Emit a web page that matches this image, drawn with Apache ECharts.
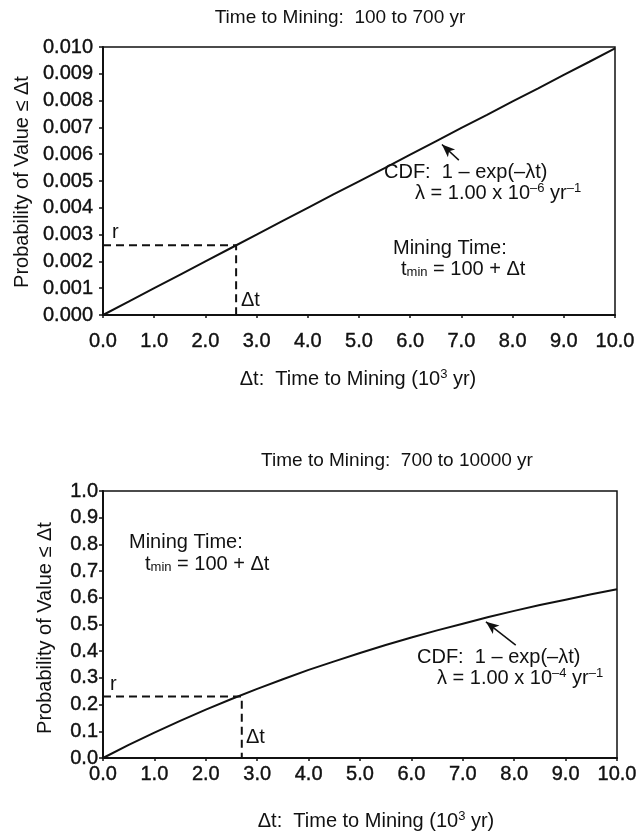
<!DOCTYPE html>
<html>
<head>
<meta charset="utf-8">
<script src="https://cdn.jsdelivr.net/npm/echarts@6/dist/echarts.min.js"></script>
<style>
  html, body { margin: 0; padding: 0; background: #fff; }
  #chart { width: 642px; height: 837px; }
</style>
</head>
<body>
<div id="chart"></div>
<script>
// Δt in 10^3 yr, sampled every 0.5
const dtSteps = [0, 0.5, 1, 1.5, 2, 2.5, 3, 3.5, 4, 4.5, 5, 5.5, 6, 6.5, 7, 7.5, 8, 8.5, 9, 9.5, 10];

// Upper panel: mining between 100 and 700 yr (λ = 1e-6 / yr)
const cdfShort = [0, 0.0005, 0.0010, 0.0015, 0.0020, 0.0025, 0.0030, 0.0035, 0.0040, 0.0045,
                  0.00499, 0.00548, 0.00598, 0.00648, 0.00698, 0.00747, 0.00797, 0.00846, 0.00896, 0.00945, 0.00995];
// Lower panel: mining between 700 and 10000 yr (λ = 1e-4 / yr)
const cdfLong = [0, 0.049, 0.095, 0.139, 0.181, 0.221, 0.259, 0.295, 0.330, 0.362,
                 0.393, 0.423, 0.451, 0.478, 0.503, 0.528, 0.551, 0.573, 0.593, 0.613, 0.632];

// Sampled value r and its Δt, drawn as dashed guides
const sampleShort = { r: 0.0026, dt: 2.6 };
const sampleLong = { r: 0.23, dt: 2.7 };

// Arrow pointing at each curve: [tail, head]
const arrowShort = [[6.95, 0.00578], [6.62, 0.00636]];
const arrowLong = [[8.03, 0.423], [7.45, 0.510]];

const xTicks = { min: 0, max: 10, interval: 1 };
const yTicksShort = { min: 0, max: 0.010, interval: 0.001 };
const yTicksLong = { min: 0, max: 1.0, interval: 0.1 };

const titles = ['Time to Mining:  100 to 700 yr', 'Time to Mining:  700 to 10000 yr'];
const yName = 'Probability of Value \u2264 \u0394t';

const FONT = '"Liberation Sans", Arial, Helvetica, sans-serif';
const INK = '#111';
const FS = 20;

const chart = echarts.init(document.getElementById('chart'), null, { renderer: 'canvas' });

function pairs(xs, ys) { return xs.map((x, i) => [x, ys[i]]); }

const labelInk = { color: INK, fontFamily: FONT, fontSize: FS, textBorderColor: INK, textBorderWidth: 0.4 };

function xAxisCfg(gridIndex, margin) {
  return {
    type: 'value', gridIndex, min: xTicks.min, max: xTicks.max, interval: xTicks.interval,
    axisLine: { show: true, onZero: false, lineStyle: { color: INK, width: 2 } },
    axisTick: { show: true, length: 3, lineStyle: { color: INK, width: 1.5 } },
    axisLabel: Object.assign({ margin, formatter: v => v.toFixed(1) }, labelInk),
    splitLine: { show: false }
  };
}
function yAxisCfg(gridIndex, t, digits, margin) {
  return {
    type: 'value', gridIndex, min: t.min, max: t.max, interval: t.interval,
    axisLine: { show: true, onZero: false, lineStyle: { color: INK, width: 2 } },
    axisTick: { show: true, length: 4, lineStyle: { color: INK, width: 1.5 } },
    axisLabel: Object.assign({ margin, formatter: v => v.toFixed(digits) }, labelInk),
    splitLine: { show: false }
  };
}

function curveSeries(idx, data, arrow) {
  return {
    type: 'line', xAxisIndex: idx, yAxisIndex: idx, data: pairs(dtSteps, data),
    showSymbol: false, smooth: false, silent: true,
    lineStyle: { color: INK, width: 2 },
    markLine: {
      silent: true, animation: false,
      label: { show: false },
      lineStyle: { color: INK, width: 1.5, type: 'solid' },
      data: [[
        { coord: arrow[0], symbol: 'none' },
        { coord: arrow[1], symbol: 'arrow', symbolSize: [8, 13] }
      ]]
    }
  };
}
function guideSeries(idx, s) {
  return {
    type: 'line', xAxisIndex: idx, yAxisIndex: idx,
    data: [[0, s.r], [s.dt, s.r], [s.dt, 0]],
    showSymbol: false, silent: true,
    lineStyle: { color: INK, width: 2, type: [8, 5] }
  };
}

chart.setOption({
  animation: false,
  backgroundColor: '#fff',
  grid: [
    { left: 103, top: 47, width: 512, height: 268, show: true, borderColor: INK, borderWidth: 1.5, backgroundColor: 'transparent' },
    { left: 103, top: 491, width: 514, height: 267, show: true, borderColor: INK, borderWidth: 1.5, backgroundColor: 'transparent' }
  ],
  xAxis: [xAxisCfg(0, 16), xAxisCfg(1, 6)],
  yAxis: [yAxisCfg(0, yTicksShort, 3, 10), yAxisCfg(1, yTicksLong, 1, 5)],
  series: [
    curveSeries(0, cdfShort, arrowShort),
    guideSeries(0, sampleShort),
    curveSeries(1, cdfLong, arrowLong),
    guideSeries(1, sampleLong)
  ]
});

// Text annotations
const rich = {
  n: { fontFamily: FONT, fontSize: FS, color: INK },
  t: { fontFamily: FONT, fontSize: 19, color: INK },
  sup: { fontFamily: FONT, fontSize: 13, color: INK, verticalAlign: 'top', padding: [0, 0, 10, 0] },
  sub: { fontFamily: FONT, fontSize: 13, color: INK, verticalAlign: 'bottom', padding: [6, 0, 0, 0] }
};
function txt(x, y, text, align, rot) {
  return {
    type: 'text', x, y, rotation: rot || 0, silent: true,
    style: { text, rich, fill: INK, font: FS + 'px ' + FONT, align: align || 'left', verticalAlign: 'middle' }
  };
}
const xName = '{n|\u0394t:  Time to Mining (10}{sup|3}{n| yr)}';
const cdfText = '{n|CDF:  1 \u2013 exp(\u2013\u03bbt)}';
const lamShort = '{n|\u03bb = 1.00 x 10}{sup|\u20136}{n| yr}{sup|\u20131}';
const lamLong = '{n|\u03bb = 1.00 x 10}{sup|\u20134}{n| yr}{sup|\u20131}';
const miningTime = '{n|Mining Time:}';
const tmin = '{n|t}{sub|min}{n| = 100 + \u0394t}';

chart.setOption({
  graphic: [
    txt(340, 18, '{t|' + titles[0] + '}', 'center'),
    txt(358, 379, xName, 'center'),
    txt(22, 182, '{n|' + yName + '}', 'center', Math.PI / 2),
    txt(384, 172, cdfText),
    txt(415, 193, lamShort),
    txt(393, 248, miningTime),
    txt(401, 269, tmin),
    txt(112, 232, '{n|r}'),
    txt(241, 300, '{n|\u0394t}'),

    txt(397, 461, '{t|' + titles[1] + '}', 'center'),
    txt(376, 821, xName, 'center'),
    txt(45, 628, '{n|' + yName + '}', 'center', Math.PI / 2),
    txt(417, 657, cdfText),
    txt(437, 678, lamLong),
    txt(129, 542, miningTime),
    txt(145, 564, tmin),
    txt(110, 684, '{n|r}'),
    txt(246, 737, '{n|\u0394t}')
  ]
});
</script>
</body>
</html>
